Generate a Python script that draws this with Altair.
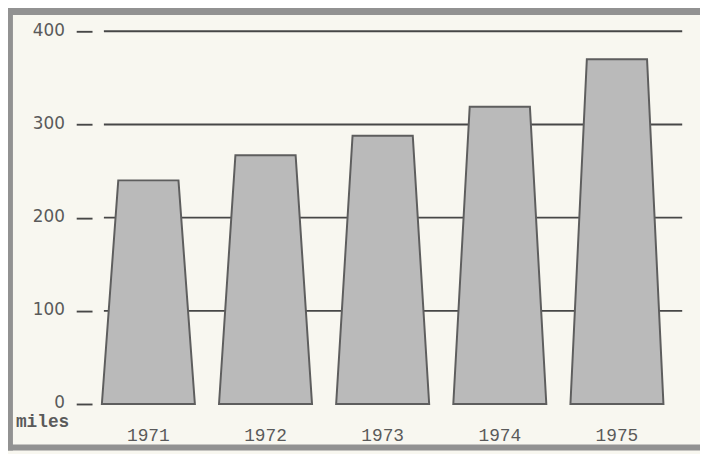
import altair as alt
import pandas as pd

# ---- data ----
years = ["1971", "1972", "1973", "1974", "1975"]
miles = [240, 267, 288, 319, 370]
y_ticks = [0, 100, 200, 300, 400]
grid_values = [100, 200, 300, 400]

# ---- styling constants (shape of the trapezoid bars, in category units) ----
BOTTOM_HALF = 0.397
TOP_HALF = 0.257

rows = []
for i, (yr, v) in enumerate(zip(years, miles)):
    rows += [
        {"year": yr, "x": i - BOTTOM_HALF, "y": 0},
        {"year": yr, "x": i - TOP_HALF, "y": v},
        {"year": yr, "x": i + TOP_HALF, "y": v},
        {"year": yr, "x": i + BOTTOM_HALF, "y": 0},
    ]
trap_df = pd.DataFrame(rows)
label_df = pd.DataFrame({"year": years, "idx": list(range(len(years)))})
grid_df = pd.DataFrame({"value": grid_values})
one = pd.DataFrame({"a": [0]})

W, H = 603, 377
xscale = alt.Scale(domain=[-0.3797, 4.709], nice=False, zero=False)
yscale = alt.Scale(domain=[0, 400], nice=False)

TEXT = "#5a5a5a"
LINE = "#474747"

frame_col = "#929292"
frame = alt.layer(
    alt.Chart(one).mark_rule(color=frame_col, strokeWidth=7).encode(
        x=alt.value(-97), x2=alt.value(W), y=alt.value(-20)),
    alt.Chart(one).mark_rule(color=frame_col, strokeWidth=8).encode(
        x=alt.value(-96), y=alt.value(-23), y2=alt.value(424)),
    alt.Chart(one).mark_rule(color=frame_col, strokeWidth=6).encode(
        x=alt.value(-97), x2=alt.value(W), y=alt.value(421)),
)

grid = alt.Chart(grid_df).mark_rule(color=LINE, strokeWidth=1.9).encode(
    y=alt.Y("value:Q", scale=yscale, title=None,
            axis=alt.Axis(values=y_ticks, grid=False, domain=False, offset=12,
                          tickSize=16, tickColor=LINE, tickWidth=1.9,
                          labelPadding=12, labelFont="DejaVu Sans",
                          labelFontSize=17, labelColor=TEXT,
                          labelBaseline="alphabetic", labelOffset=4,
                          labelAlign="right")),
    x=alt.value(0), x2=alt.value(585),
)

bars = alt.Chart(trap_df).mark_area(
    orient="vertical", fill="#bababa", stroke="#5e5e5e", strokeWidth=2,
    opacity=1, fillOpacity=1
).encode(
    x=alt.X("x:Q", scale=xscale, axis=None),
    y=alt.Y("y:Q", scale=yscale, stack=None, title=None),
    detail="year:N",
)

year_labels = alt.Chart(label_df).mark_text(
    font="Liberation Mono", fontSize=18, color=TEXT, baseline="middle"
).encode(
    x=alt.X("idx:Q", scale=xscale, axis=None),
    y=alt.value(409),
    text="year:N",
)

miles_label = alt.Chart(one).mark_text(
    text="miles", font="Liberation Mono", fontSize=18, fontWeight="bold",
    color=TEXT, baseline="middle"
).encode(x=alt.value(-62), y=alt.value(395))

chart = alt.layer(frame, grid, bars, year_labels, miles_label).properties(
    width=W, height=H,
    autosize=alt.AutoSizeParams(type="none"),
    padding={"left": 97, "top": 21, "right": 0, "bottom": 48},
    background="#f8f7f0",
).configure_view(stroke=None)

chart.save("out.html", embed_options={"renderer": "svg", "actions": False})
